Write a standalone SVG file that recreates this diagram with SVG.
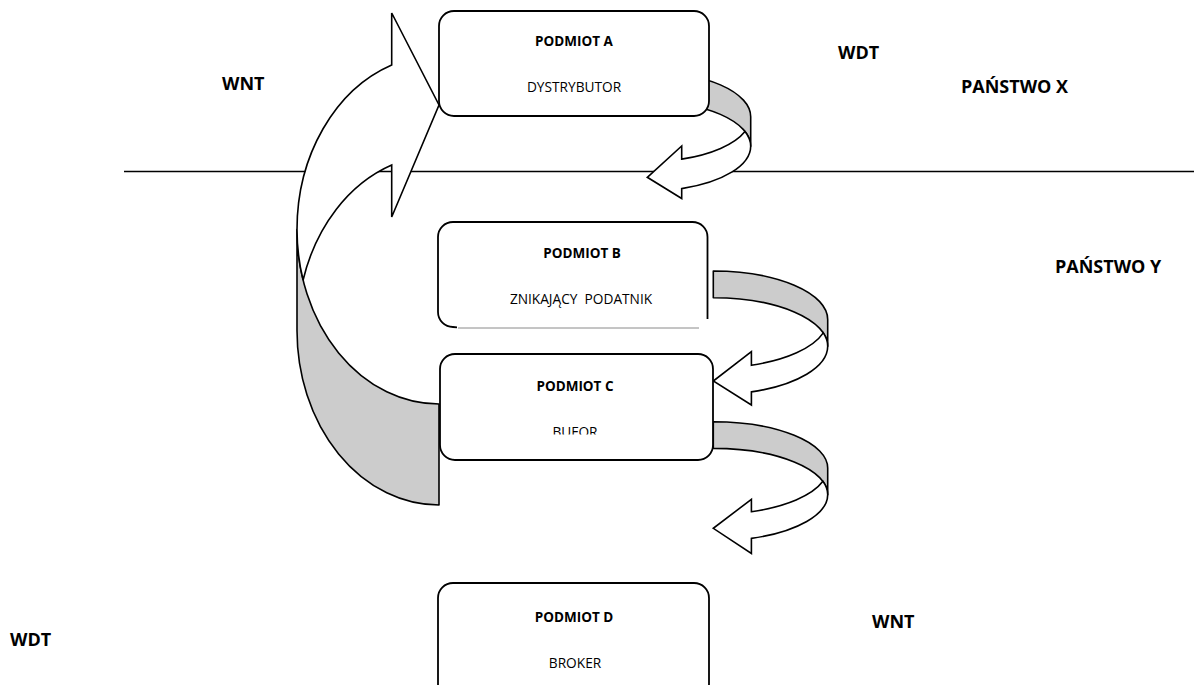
<svg xmlns="http://www.w3.org/2000/svg" width="1194" height="685" viewBox="0 0 1194 685">
<style>
.ln{fill:none;stroke:#000;stroke-width:1.6}
.box{fill:#fff;stroke:#000;stroke-width:1.8}
.back{fill:#cccccc;stroke:#000;stroke-width:1.6;stroke-linejoin:round}
.front{fill:#fff;stroke:#000;stroke-width:1.6;stroke-linejoin:miter}
.t{font-family:"Open Sans","DejaVu Sans",sans-serif;fill:#000;text-anchor:middle;white-space:pre}
.b{font-weight:bold;font-size:13.5px}
.r{font-weight:normal;font-size:13.7px}
.lab{font-family:"Open Sans","DejaVu Sans",sans-serif;font-weight:bold;font-size:18px;fill:#000}
</style>
<defs>
<clipPath id="clipBufor"><rect x="440" y="354" width="273" height="80.5"/></clipPath>
</defs>
<rect width="1194" height="685" fill="#fff"/>
<line id="border" class="ln" x1="124" y1="171.5" x2="1194" y2="171.5"/>
<g id="connectors">
  <g id="arrow-C-A">
    <path class="back" d="M439,404 A142 174.5 0 0 1 297,229.5 L297,330.5 A142 174.5 0 0 0 439,505 Z"/>
    <path class="front" d="M297,229.5 A142 174.5 0 0 1 391.7,65 L391.7,13 L439,105 L391.7,217 L391.7,165 A142 174.5 0 0 0 303.1,280 A142 174.5 0 0 1 297,229.5 Z"/>
  </g>
  <g id="arrow-A-B">
    <path class="back" d="M647.3,101.2 A103.4 45 0 0 1 750.7,146.2 L750.7,116.7 A103.4 45 0 0 0 647.3,71.7 Z"/>
    <path class="front" d="M750.7,146.2 A103.4 45 0 0 1 681.7,188.6 L681.7,198.5 L647.3,177.3 L681.7,146 L681.7,159.1 A103.4 45 0 0 0 745,131.45 A103.4 45 0 0 1 750.7,146.2 Z"/>
  </g>
  <g id="arrow-B-C">
    <path class="back" d="M713.3,297.7 A114.4 48.5 0 0 1 827.7,346.2 L827.7,319.5 A114.4 48.5 0 0 0 713.3,271 Z"/>
    <path class="front" d="M827.7,346.2 A114.4 48.5 0 0 1 751.4,391.9 L751.4,405 L713.3,381 L751.4,351.7 L751.4,365.2 A114.4 48.5 0 0 0 823.3,332.85 A114.4 48.5 0 0 1 827.7,346.2 Z"/>
  </g>
  <g id="arrow-C-D">
    <path class="back" d="M713.3,448.4 A114.4 46.3 0 0 1 827.7,494.7 L827.7,468 A114.4 46.3 0 0 0 713.3,421.7 Z"/>
    <path class="front" d="M827.7,494.7 A114.4 46.3 0 0 1 751.4,538.4 L751.4,553.5 L713.3,528.3 L751.4,499.3 L751.4,511.7 A114.4 46.3 0 0 0 822.9,481.35 A114.4 46.3 0 0 1 827.7,494.7 Z"/>
  </g>
</g>
<g id="node-a">
  <rect class="box" x="439" y="11" width="270" height="105" rx="15"/>
  <text class="t b" x="574" y="45.8">PODMIOT A</text>
  <text class="t r" x="574" y="92">DYSTRYBUTOR</text>
</g>
<g id="node-b">
  <path class="box" d="M707.5,319 V237 A15 15 0 0 0 692.5,222 H453 A15 15 0 0 0 438,237 V312 A15 15 0 0 0 453,327 L457,327.3"/>
  <line x1="458" y1="328" x2="699" y2="328" stroke="#8a8a8a" stroke-width="1"/>
  <text class="t b" x="582" y="257.8">PODMIOT B</text>
  <text class="t r" x="581" y="304">ZNIKAJĄCY  PODATNIK</text>
</g>
<g id="node-c">
  <rect class="box" x="440" y="354" width="273" height="106" rx="15"/>
  <text class="t b" x="575" y="390.8">PODMIOT C</text>
  <text class="t r" x="575" y="436.8" clip-path="url(#clipBufor)">BUFOR</text>
</g>
<g id="node-d">
  <rect class="box" x="438" y="583" width="271" height="116" rx="15"/>
  <text class="t b" x="574" y="621.8">PODMIOT D</text>
  <text class="t r" x="575" y="668">BROKER</text>
</g>
<g id="labels">
  <text class="lab" x="222" y="89.5">WNT</text>
  <text class="lab" x="838" y="59.2">WDT</text>
  <text class="lab" x="961" y="93.2">PAŃSTWO X</text>
  <text class="lab" x="1055" y="273.2">PAŃSTWO Y</text>
  <text class="lab" x="10" y="646.2">WDT</text>
  <text class="lab" x="872" y="628.2">WNT</text>
</g>
</svg>
